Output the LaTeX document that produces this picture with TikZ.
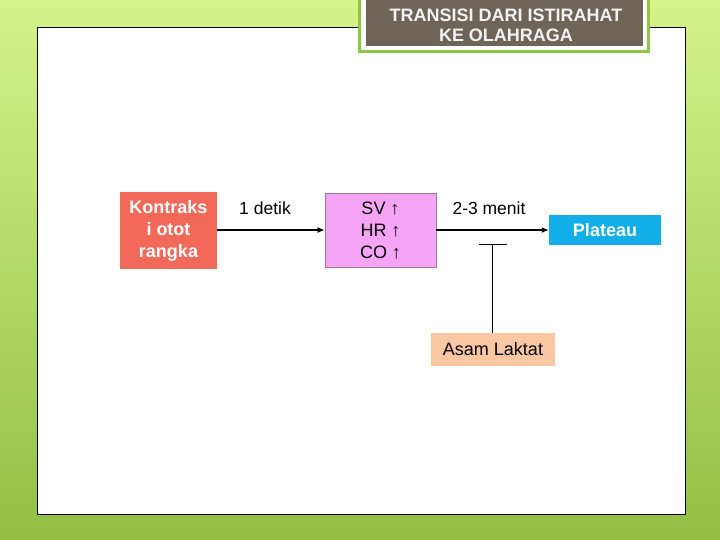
\documentclass[tikz,border=0pt]{standalone}
\usepackage{fontspec}
\setmainfont{Liberation Sans}
\usetikzlibrary{arrows.meta}
\definecolor{bgtop}{HTML}{D4F38A}
\definecolor{bgbot}{HTML}{93BF45}
\definecolor{titlebrown}{HTML}{6E6558}
\definecolor{titlegreen}{HTML}{8DC63F}
\definecolor{kred}{HTML}{F2695A}
\definecolor{svpink}{HTML}{F6A4F6}
\definecolor{svborder}{HTML}{9A7A9A}
\definecolor{pblue}{HTML}{12AEE8}
\definecolor{apeach}{HTML}{FBC6A2}
\tikzset{
  box/.style={draw=none, minimum width=#1, inner sep=0pt, align=center, font=\fontsize{18}{22}\selectfont},
  link/.style={line width=1.6pt, -{Latex[length=7pt,width=6pt]}},
  lbl/.style={font=\fontsize{17.5}{20}\selectfont, inner sep=0pt}
}
\begin{document}
\begin{tikzpicture}[x=1pt,y=-1pt]
\useasboundingbox (0,0) rectangle (720,540);
\shade[top color=bgtop, bottom color=bgbot] (0,0) rectangle (720,540);
\fill[white, draw=black, line width=0.8pt] (37,27) rectangle (685,514);
% title
\fill[titlegreen] (358,0) rectangle (650,53);
\fill[white] (361,0) rectangle (647,50);
\fill[titlebrown] (366,0) rectangle (643,46);
\node[font=\fontsize{18}{20}\selectfont\bfseries, text=white!95!black, align=center] (title) at (506,25.5) {TRANSISI DARI ISTIRAHAT\\KE OLAHRAGA};
% nodes
\node[box=97pt, minimum height=77pt, fill=kred, text=white, font=\fontsize{18}{22}\selectfont\bfseries] (k) at (168.5,230.5) {Kontraks\\i otot\\rangka};
\node[box=111pt, minimum height=74pt, fill=svpink, draw=svborder, line width=0.6pt] (sv) at (380.5,230) {SV \char"2191\\HR \char"2191\\CO \char"2191};
\node[box=112pt, minimum height=30pt, fill=pblue, text=white, font=\fontsize{18}{20}\selectfont\bfseries] (p) at (605,230) {Plateau};
\node[box=124pt, minimum height=33pt, fill=apeach] (a) at (493,349.5) {Asam Laktat};
% connectors
\draw[link] (k.east |- sv.west) -- (sv.west);
\draw[link] (sv.east) -- (p.west);
\node[lbl] (l1) at (265,208) {1 detik};
\node[lbl] (l2) at (489,208) {2-3 menit};
\coordinate (tb) at (492,244);
\draw[line width=0.8pt] (a.north -| tb) -- (tb);
\draw[line width=0.8pt] (479,244) -- (507,244);
\end{tikzpicture}
\end{document}
